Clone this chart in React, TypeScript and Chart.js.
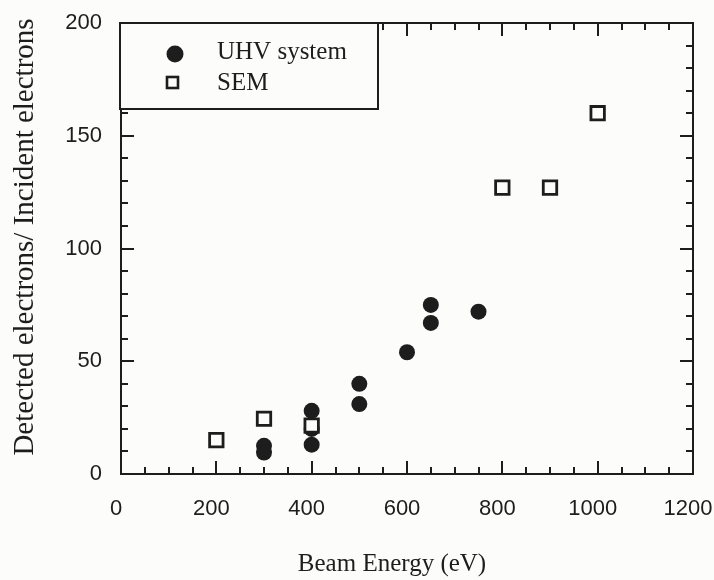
import React, { useEffect, useRef } from 'react';
import { Chart, registerables } from 'chart.js';

Chart.register(...registerables);

// ---- data ----
const uhvEnergy = [300, 300, 400, 400, 400, 500, 500, 600, 650, 650, 750];
const uhvRatio = [12.5, 9.5, 28, 20, 13, 40, 31, 54, 75, 67, 72];
const semEnergy = [200, 300, 400, 800, 900, 1000];
const semRatio = [15, 24.5, 21.5, 127, 127, 160];
const seriesLabels = ['UHV system', 'SEM'];
const xTitle = 'Beam Energy (eV)';
const yTitle = 'Detected electrons/ Incident electrons';
const xRange = [0, 1200];
const yRange = [0, 200];
const xMajorStep = 200;
const xMinorStep = 50;
const yMajorStep = 50;
const yMinorStep = 10;

const INK = '#1d1d1d';
const PAPER = '#fcfcfb';
const SERIF = '"Liberation Serif", "Times New Roman", serif';
const SANS = '"Liberation Sans", Arial, sans-serif';

const framePlugin = {
  id: 'frame',
  beforeDraw(chart: any) {
    const { ctx, width, height } = chart;
    ctx.save();
    ctx.fillStyle = PAPER;
    ctx.fillRect(0, 0, width, height);
    ctx.restore();
  },
  beforeDatasetsDraw(chart: any) {
    const { ctx, chartArea: a, scales } = chart;
    const x = scales.x;
    const y = scales.y;
    const majLen = 13;
    const minLen = 7;
    ctx.save();
    ctx.strokeStyle = INK;
    ctx.lineWidth = 2;
    const seg = (x1: number, y1: number, x2: number, y2: number) => {
      ctx.beginPath();
      ctx.moveTo(x1, y1);
      ctx.lineTo(x2, y2);
      ctx.stroke();
    };
    for (let v = x.min; v <= x.max + 1e-6; v += xMinorStep) {
      const px = Math.round(x.getPixelForValue(v));
      const major = Math.abs(v % xMajorStep) < 1e-6;
      const len = major ? majLen : minLen;
      seg(px, a.bottom, px, a.bottom - len);
      seg(px, a.top, px, a.top + len);
    }
    for (let v = y.min; v <= y.max + 1e-6; v += yMinorStep) {
      const py = Math.round(y.getPixelForValue(v));
      const major = Math.abs(v % yMajorStep) < 1e-6;
      const len = major ? majLen : minLen;
      seg(a.left, py, a.left + len, py);
      seg(a.right, py, a.right - len, py);
    }
    ctx.strokeRect(a.left, a.top, a.right - a.left, a.bottom - a.top);
    ctx.restore();
  },
  afterDraw(chart: any) {
    const { ctx, chartArea: a } = chart;
    ctx.save();
    // legend box
    const bx = a.left - 1;
    const by = a.top;
    const bw = 258;
    const bh = 86;
    ctx.fillStyle = PAPER;
    ctx.fillRect(bx, by, bw, bh);
    ctx.strokeStyle = INK;
    ctx.lineWidth = 2;
    ctx.strokeRect(bx, by, bw, bh);
    ctx.font = `25px ${SERIF}`;
    ctx.textBaseline = 'middle';
    ctx.textAlign = 'left';
    ctx.fillStyle = INK;
    // UHV symbol
    ctx.beginPath();
    ctx.arc(bx + 55, by + 31, 8.5, 0, Math.PI * 2);
    ctx.fill();
    ctx.fillText(chart.data.datasets[0].label, bx + 97, by + 29);
    // SEM symbol
    ctx.lineWidth = 2.6;
    ctx.fillStyle = PAPER;
    ctx.fillRect(bx + 47, by + 54, 11, 11);
    ctx.strokeRect(bx + 47, by + 54, 11, 11);
    ctx.fillStyle = INK;
    ctx.fillText(chart.data.datasets[1].label, bx + 97, by + 60);

    // axis titles
    ctx.font = `25px ${SERIF}`;
    ctx.textAlign = 'center';
    ctx.fillText(xTitle, 392, 564);
    ctx.translate(25, 237);
    ctx.rotate(-Math.PI / 2);
    ctx.font = `29px ${SERIF}`;
    ctx.fillText(yTitle, 0, 0);
    ctx.restore();
  },
};

export default function App() {
  const ref = useRef<HTMLCanvasElement | null>(null);

  useEffect(() => {
    document.body.style.margin = '0';
    const canvas = ref.current;
    if (!canvas) return;
    const chart = new Chart(canvas, {
      type: 'scatter',
      data: {
        datasets: [
          {
            label: seriesLabels[0],
            data: uhvEnergy.map((e, i) => ({ x: e, y: uhvRatio[i] })),
            pointStyle: 'circle',
            pointRadius: 8,
            pointBackgroundColor: INK,
            pointBorderColor: INK,
            pointBorderWidth: 0,
            order: 1,
          },
          {
            label: seriesLabels[1],
            data: semEnergy.map((e, i) => ({ x: e, y: semRatio[i] })),
            pointStyle: 'rect',
            pointRadius: 9.5,
            pointBackgroundColor: PAPER,
            pointBorderColor: INK,
            pointBorderWidth: 2.8,
            order: 0,
          },
        ],
      },
      options: {
        responsive: false,
        animation: false,
        devicePixelRatio: 1,
        layout: { padding: { top: 23, right: 21, left: 0, bottom: 0 } },
        plugins: { legend: { display: false }, tooltip: { enabled: false } },
        scales: {
          x: {
            type: 'linear',
            min: xRange[0],
            max: xRange[1],
            grid: { display: false, drawTicks: false },
            border: { display: false },
            ticks: {
              stepSize: xMajorStep,
              padding: 22,
              labelOffset: -5,
              color: INK,
              font: { family: SANS, size: 22 },
              maxRotation: 0,
              callback: (v: any) => String(v),
            },
            afterFit: (s: any) => {
              s.height = 106;
              s.paddingLeft = 0;
              s.paddingRight = 0;
            },
          },
          y: {
            type: 'linear',
            min: yRange[0],
            max: yRange[1],
            grid: { display: false, drawTicks: false },
            border: { display: false },
            ticks: {
              stepSize: yMajorStep,
              padding: 19,
              color: INK,
              font: { family: SANS, size: 22 },
              callback: (v: any) => String(v),
            },
            afterFit: (s: any) => {
              s.width = 121;
              s.paddingTop = 0;
              s.paddingBottom = 0;
            },
          },
        },
      },
      plugins: [framePlugin],
    });
    return () => chart.destroy();
  }, []);

  return (
    <div style={{ position: 'fixed', left: 0, top: 0, width: 714, height: 580 }}>
      <canvas ref={ref} width={714} height={580} style={{ width: 714, height: 580 }} />
    </div>
  );
}
